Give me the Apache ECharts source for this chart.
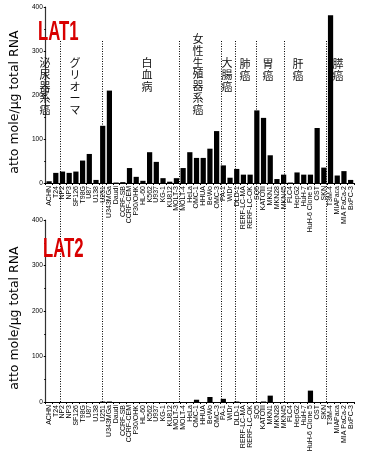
<!DOCTYPE html>
<html><head><meta charset="utf-8">
<script src="https://cdn.jsdelivr.net/npm/echarts@6/dist/echarts.min.js"></script>
<style>html,body{margin:0;padding:0;background:#fff}#c{width:365px;height:463px}</style>
</head><body><div id="c"></div>
<script>
const categories = ["ACHN","T24","NP2","NP3","SF126","T98G","U87","U138","U251","U343MGa",
 "Daudi","CCRF-SB","CCRF-CEM","P30/OHK","HL-60","K562","U937","KG-1","KU812","MOLT-3","MOLT-4",
 "HeLa","OMC-1","HHUA","BeWo","OMC-3","PA-1",
 "WiDr","DLD-1",
 "RERF-LC-MA","RERF-LC-OK","SQ5",
 "KATOIII","MKN1","MKN28","MKN45",
 "FLC4","HepG2","HuH-7","HuH-6 Clone 5","OST","SKN",
 "T3M-4","MIAPaca","MIA PaCa-2","BxPC-3"];
const lat1 = [4,23,26,23,26,51,66,7,130,210,
 1,2,34,14,5,70,48,11,3,11,34,
 70,57,57,78,118,40,
 12,32,
 19,19,165,
 148,63,9,19,
 1,24,19,19,125,35,
 381,17,27,7];
const lat2 = [0,0,0,0,0,0,0,0,1,1,
 0,0,0,0,0,0,0,0,0,0,0,
 0,5,0,11,0,7,
 0,1,
 0,0,0,
 1,14,0,0,
 0,0,0,25,0,0,
 0,0,0,0];
const groupNames = ["泌尿器系癌","グリオーマ","白血病","女性生殖器系癌","大腸癌","肺癌","胃癌","肝癌","膵癌"];
const groupSizes = [4,6,11,6,2,3,4,6,4];
const yTicks = [0,100,200,300,400];

const boundaries = [];
let acc = 0;
for (let i = 0; i < groupSizes.length - 1; i++) { acc += groupSizes[i]; boundaries.push(acc); }

const chart = echarts.init(document.getElementById('c'), null, {renderer:'canvas'});
const FONT = 'Liberation Sans, Arial, sans-serif';

function xAx(gi){
  return {type:'category', gridIndex:gi, data:categories,
    axisLine:{lineStyle:{color:'#000',width:1}},
    axisTick:{show:true, alignWithLabel:false, length:2, lineStyle:{color:'#000'}},
    axisLabel:{interval:0, rotate:90, fontSize:7, color:'#000', margin:3, fontFamily:FONT}};
}
function yAx(gi){
  return {type:'value', gridIndex:gi, min:yTicks[0], max:yTicks[yTicks.length-1], interval:100,
    name:'atto mole/μg total RNA', nameLocation:'middle', nameGap:22,
    nameTextStyle:{fontSize:12.5, color:'#000', fontFamily:'DejaVu Sans', padding:[0,14,0,0]},
    axisLine:{show:true, lineStyle:{color:'#333',width:1.2}},
    axisTick:{show:true, length:2, lineStyle:{color:'#000'}},
    minorTick:{show:true, splitNumber:2, length:1.5, lineStyle:{color:'#000'}},
    splitLine:{show:false},
    axisLabel:{fontSize:6.5, color:'#000', margin:3, fontFamily:FONT}};
}

const gText = [];
const gx = [45,75,147,198,227,245,268,298,338];
const gy = [57,57,57,33,57,58,58,58,58];
groupNames.forEach((n,i)=>{
  gText.push({type:'text', x:gx[i], y:gy[i], z:100,
    style:{text:n.split('').join('\n'), fill:'#111', font:'11px "Noto Sans CJK JP"',
      lineHeight:11.8, align:'center', verticalAlign:'top'}});
});
gText.push({type:'text', x:38, y:19, scaleX:0.62, z:100, style:{text:'LAT1', fill:'#d80000',
  font:'bold 27px "Liberation Sans", sans-serif'}});
gText.push({type:'text', x:43, y:236, scaleX:0.62, z:100, style:{text:'LAT2', fill:'#d80000',
  font:'bold 27px "Liberation Sans", sans-serif'}});

chart.setOption({
  animation:false,
  backgroundColor:'#fff',
  grid:[
    {left:32, right:11, top:7, height:176},
    {left:32, right:11, top:220, height:182},
    {left:32, right:11, top:40, bottom:61}
  ],
  xAxis:[xAx(0), xAx(1), {type:'value', gridIndex:2, min:0, max:categories.length, show:false}],
  yAxis:[yAx(0), yAx(1), {type:'value', gridIndex:2, min:0, max:1, show:false}],
  series:[
    {type:'bar', xAxisIndex:0, yAxisIndex:0, data:lat1, barCategoryGap:'22%', itemStyle:{color:'#000'}},
    {type:'bar', xAxisIndex:1, yAxisIndex:1, data:lat2, barCategoryGap:'22%', itemStyle:{color:'#000'}},
    {type:'line', xAxisIndex:2, yAxisIndex:2, data:[[0,0]], showSymbol:false, lineStyle:{opacity:0},
      markLine:{silent:true, symbol:'none', label:{show:false},
        lineStyle:{type:[1,1.5], color:'#000', width:1},
        data:boundaries.map(b=>({xAxis:b}))}}
  ],
  graphic:gText
});
</script></body></html>
